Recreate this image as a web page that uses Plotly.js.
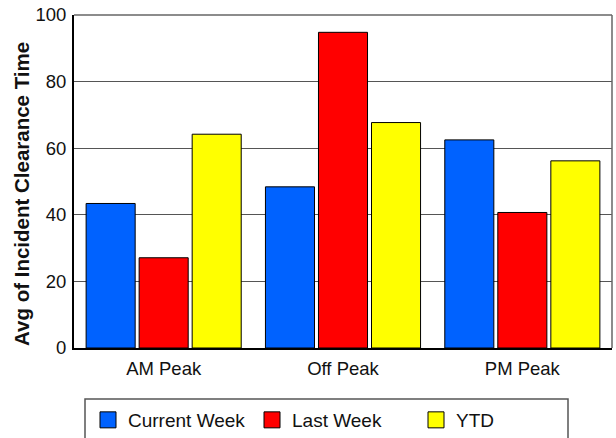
<!DOCTYPE html>
<html>
<head>
<meta charset="utf-8">
<script src="https://cdn.plot.ly/plotly-3.0.1.min.js"></script>
<style>html,body{margin:0;padding:0;background:#fff;}#chart{width:616px;height:438px;}</style>
</head>
<body>
<div id="chart"></div>
<script>
var categories = ["AM Peak", "Off Peak", "PM Peak"];
var seriesNames = ["Current Week", "Last Week", "YTD"];
var currentWeek = [43.4, 48.4, 62.5];
var lastWeek = [27.1, 94.8, 40.7];
var ytd = [64.2, 67.7, 56.2];
var yTicks = [0, 20, 40, 60, 80, 100];
var yTitle = "Avg of Incident Clearance Time";
var colors = ["#0062FF", "#FF0000", "#FFFF00"];

var values = [currentWeek, lastWeek, ytd];
var traces = [];
values.forEach(function (v, i) {
  traces.push({
    type: "bar", x: categories, y: v, name: seriesNames[i], showlegend: false,
    marker: {color: colors[i], line: {color: "#000", width: 1}},
    hoverinfo: "x+y+name"
  });
});
values.forEach(function (v, i) {
  traces.push({
    type: "scatter", mode: "markers", x: [null], y: [null], name: seriesNames[i],
    marker: {symbol: "square", size: 16, color: colors[i], line: {color: "#000", width: 1}},
    hoverinfo: "skip"
  });
});

var W = 616, H = 438, L = 74, R = 4, T = 15, B = 90;
var pw = W - L - R, ph = H - T - B;
function px(x) { return (x - L) / pw; }
function py(y) { return (H - B - y) / ph; }

var layout = {
  width: W, height: H,
  margin: {l: L, r: R, t: T, b: B, pad: 0, autoexpand: false},
  paper_bgcolor: "#fff", plot_bgcolor: "#fff",
  font: {family: "Liberation Sans, Arial, sans-serif", size: 18, color: "#111"},
  barmode: "group", bargap: 0.113, bargroupgap: 0.075,
  xaxis: {
    type: "category", showgrid: false, showline: true, linecolor: "#000", linewidth: 2,
    ticks: "outside", ticklen: 3, tickcolor: "rgba(0,0,0,0)", tickfont: {size: 18.5}, zeroline: false
  },
  yaxis: {
    range: [0, 100], tickvals: yTicks, ticktext: yTicks.map(String),
    showgrid: true, gridcolor: "#555", gridwidth: 1,
    showline: true, linecolor: "#000", linewidth: 2, zeroline: false,
    ticks: "outside", ticklen: 2, tickcolor: "rgba(0,0,0,0)", tickfont: {size: 18.5}
  },
  annotations: [
    {text: "<b>" + yTitle + "</b>", xref: "paper", yref: "paper", x: px(21), y: py(194),
     xanchor: "center", yanchor: "middle", textangle: -90, showarrow: false,
     font: {size: 20.5, color: "#111"}}
  ],
  showlegend: true,
  legend: {
    orientation: "h", x: px(88), xanchor: "left", y: py(401), yanchor: "top",
    font: {size: 19}, entrywidth: 119, entrywidthmode: "pixels",
    bgcolor: "rgba(0,0,0,0)", borderwidth: 0, traceorder: "normal"
  },
  shapes: [
    {type: "line", xref: "paper", yref: "paper", x0: 0, x1: 1, y0: 1, y1: 1, line: {color: "#666", width: 1.5}, layer: "above"},
    {type: "line", xref: "paper", yref: "paper", x0: 1, x1: 1, y0: 0, y1: 1, line: {color: "#666", width: 1.5}, layer: "above"},
    {type: "rect", xref: "paper", yref: "paper", x0: px(85), x1: px(568), y0: py(399), y1: py(445), line: {color: "#555", width: 1.5}, fillcolor: "rgba(0,0,0,0)"}
  ]
};

Plotly.newPlot("chart", traces, layout, {displayModeBar: false, staticPlot: true});
</script>
</body>
</html>
